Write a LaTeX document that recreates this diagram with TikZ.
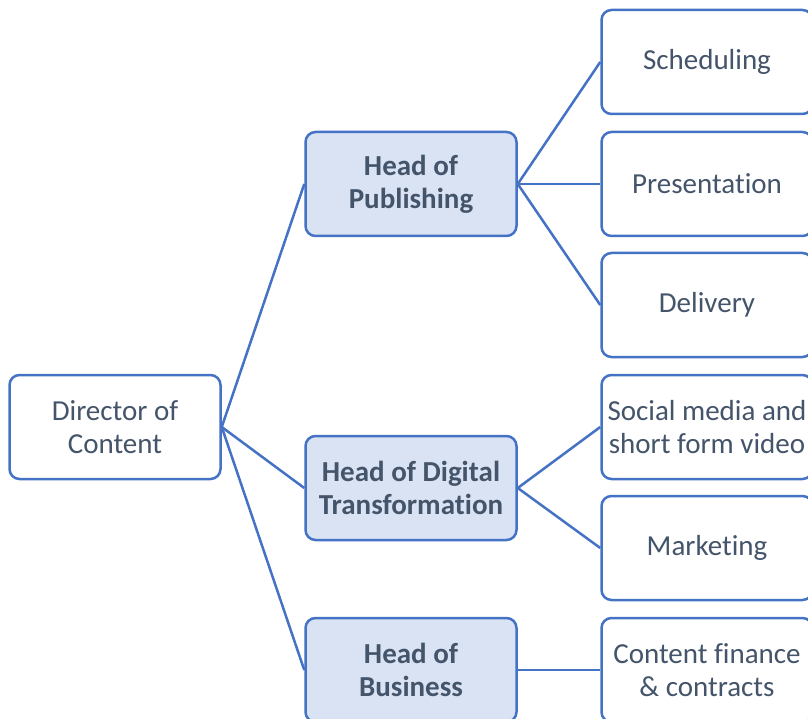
\documentclass[tikz,border=0pt]{standalone}
\usepackage{fontspec}
\setmainfont[Ligatures={NoCommon}]{Carlito}

\definecolor{boxblue}{HTML}{4472C4}
\definecolor{boxfill}{HTML}{DAE3F3}
\definecolor{inkgray}{HTML}{44546A}

\tikzset{
  unit/.style={draw=boxblue, line width=2.5pt, rounded corners=10pt, fill=white,
    minimum width=211pt, minimum height=104pt, inner sep=0pt, align=center,
    text=inkgray, font=\fontsize{29pt}{33pt}\selectfont},
  head/.style={unit, fill=boxfill, font=\fontsize{29pt}{33pt}\selectfont\bfseries},
  link/.style={draw=boxblue, line width=2.5pt}
}

\begin{document}
\begin{tikzpicture}[x=1pt, y=-1pt]
  \useasboundingbox (0,0) rectangle (808,719);
      \node (dir) [unit] at (115,427) {Director of\\Content};
      \node (pub) [head] at (411,184) {Head of\\Publishing};
      \node (dig) [head] at (411,488) {Head of Digital\\Transformation};
      \node (bus) [head] at (411,670) {Head of\\Business};
      \node (sched) [unit] at (707,62) {Scheduling};
      \node (pres) [unit] at (707,184) {Presentation};
      \node (deliv) [unit] at (707,305) {Delivery};
      \node (social) [unit] at (707,427) {Social media and\\short form video};
      \node (mkt) [unit] at (707,548) {Marketing};
      \node (fin) [unit] at (707,670) {Content finance\\\& contracts};
    % director to heads
    \draw [link] (dir.east) to (pub.west);
    \draw [link] (dir.east) to (dig.west);
    \draw [link] (dir.east) to (bus.west);
    % heads to their teams
    \draw [link] (pub.east) to (sched.west);
    \draw [link] (pub.east) to (pres.west);
    \draw [link] (pub.east) to (deliv.west);
    \draw [link] (dig.east) to (social.west);
    \draw [link] (dig.east) to (mkt.west);
    \draw [link] (bus.east) to (fin.west);
      \end{tikzpicture}
\end{document}
